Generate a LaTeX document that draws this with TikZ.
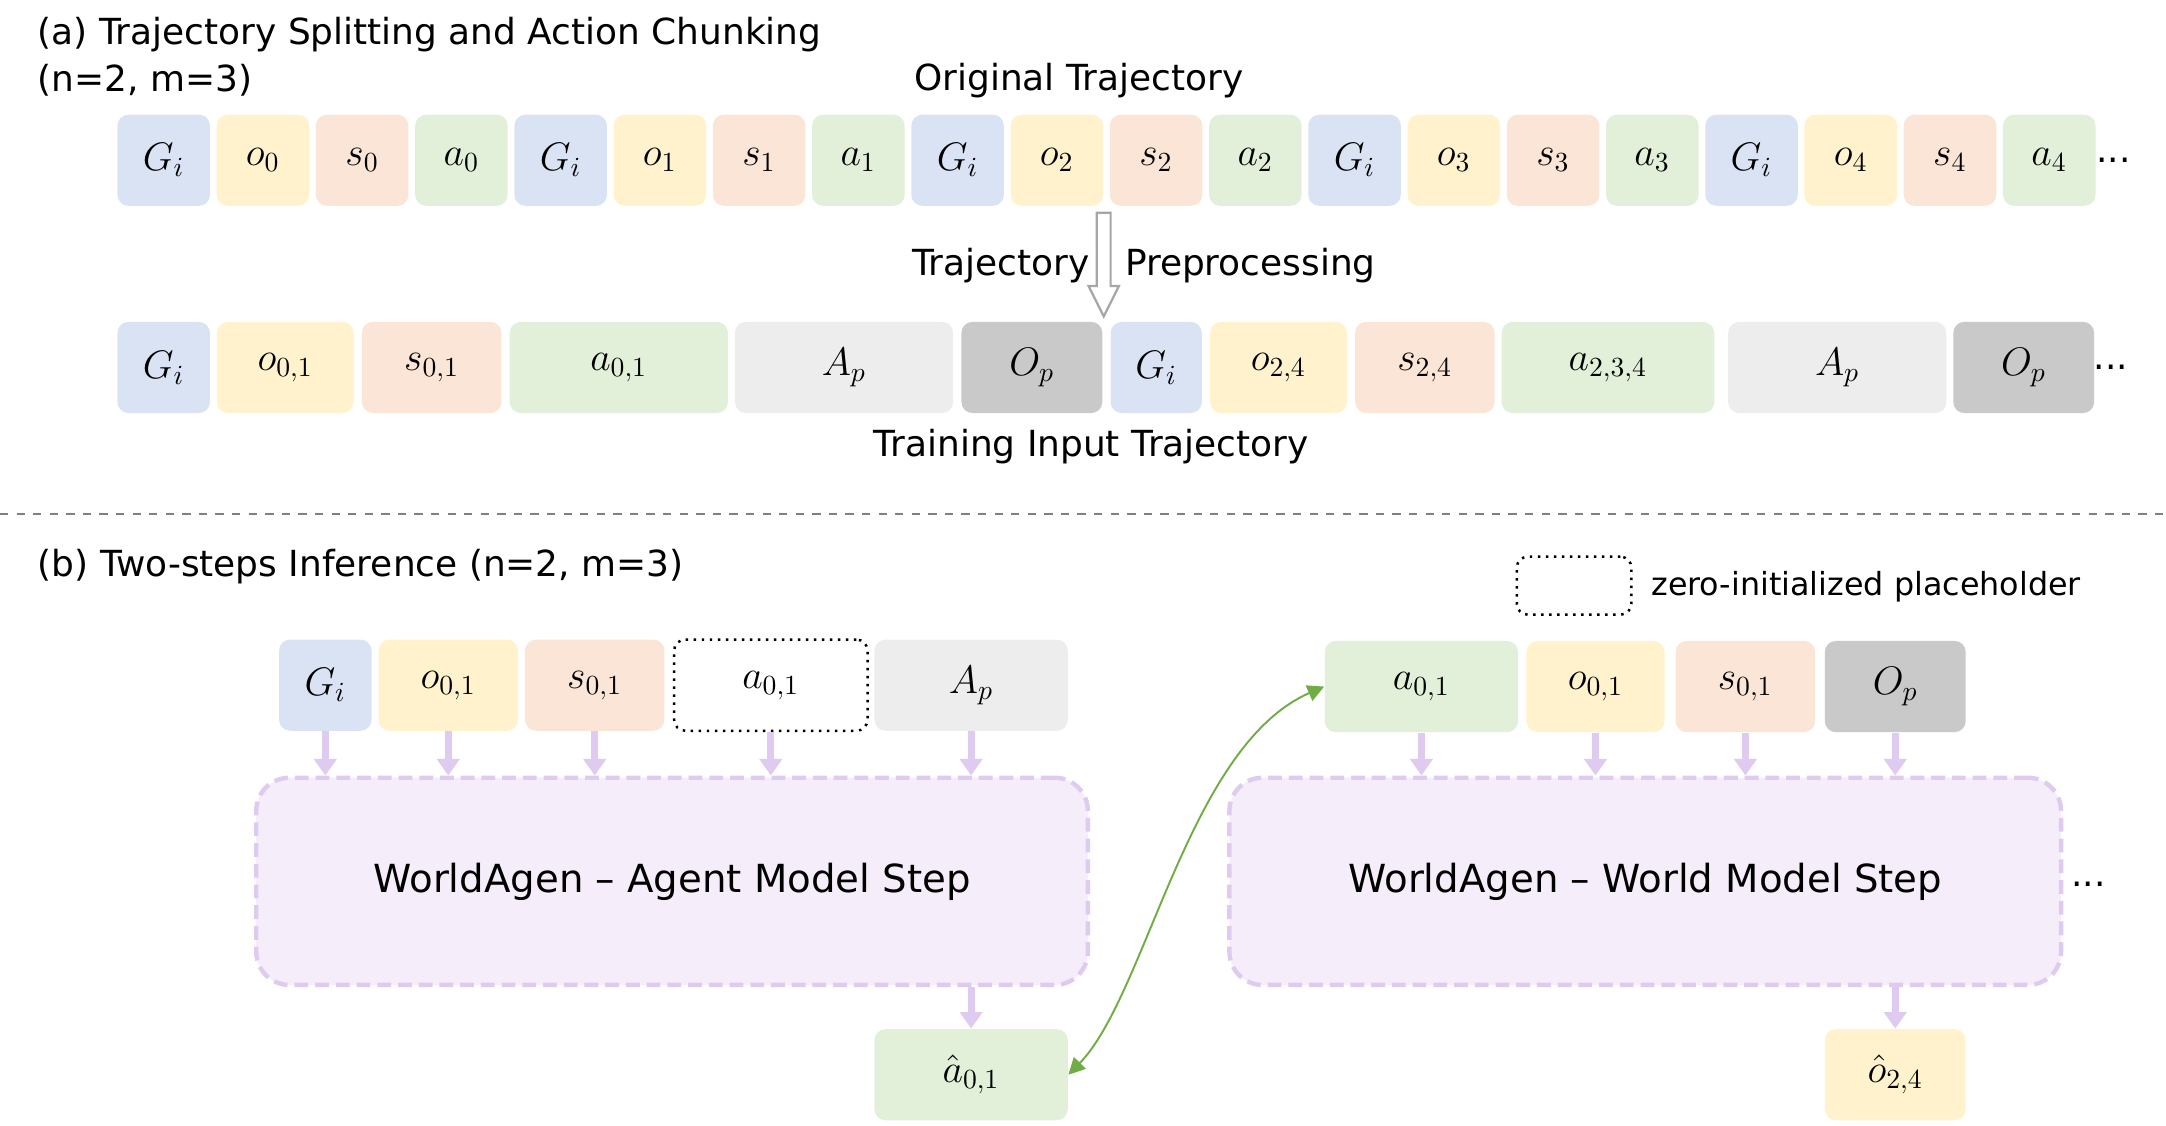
\documentclass[tikz,border=0pt]{standalone}
\usepackage[no-math]{fontspec}
\setmainfont{DejaVu Sans}
\usepackage{amsmath}
\usepackage{tikz}
\usetikzlibrary{arrows.meta,calc}
\definecolor{gblue}{HTML}{DAE3F3}
\definecolor{oyellow}{HTML}{FFF2CC}
\definecolor{ssalmon}{HTML}{FBE5D6}
\definecolor{agreen}{HTML}{E2F0D9}
\definecolor{plight}{HTML}{EDEDED}
\definecolor{pdark}{HTML}{C9C9C9}
\definecolor{lilac}{HTML}{DFCBEF}
\definecolor{lilacbg}{HTML}{F5EEFA}
\definecolor{linkgreen}{HTML}{70AD47}

\begin{document}
\begin{tikzpicture}[x=0.5pt,y=-0.5pt,
      tok/.style={rounded corners=4pt,minimum height=33pt,inner sep=0pt,font=\fontsize{14}{16}\selectfont},
      w/.style={minimum width=#1*0.5pt},
      hole/.style={tok,draw=black,dotted,line width=0.9pt,fill=white},
      hd/.style={font=\fontsize{13}{15}\selectfont,inner sep=0pt},
      model/.style={draw=lilac,dashed,dash pattern=on 5pt off 2.5pt,line width=1.6pt,fill=lilacbg,
        rounded corners=12pt,minimum width=301pt,minimum height=75pt,font=\fontsize{14}{16}\selectfont},
      feed/.style={draw=lilac,line width=2.5pt,-{Triangle[length=6pt,width=8pt]}},
      link/.style={draw=linkgreen,line width=0.7pt,{Triangle[length=6pt,width=6pt]}-{Triangle[length=6pt,width=6pt]}}]
    \useasboundingbox (0,0) rectangle (1568,815);

    % (a) splitting and chunking
    \node[hd,anchor=west] (ta) at (27,25) {(a) Trajectory Splitting and Action Chunking};
    \node[hd,anchor=west] (tanm) at (27,58) {(n=2, m=3)};
    \node[hd] (orig) at (781,58) {Original Trajectory};
    \foreach \k in {0,...,4}{
      \pgfmathsetmacro{\xx}{118.5+287.36*\k}
      \node[tok,w=67,fill=gblue]   (g\k) at (\xx,116)          {$G_i$};
      \node[tok,w=67,fill=oyellow] (o\k) at (\xx+71.84,116)    {$o_{\k}$};
      \node[tok,w=67,fill=ssalmon] (s\k) at (\xx+143.68,116)   {$s_{\k}$};
      \node[tok,w=67,fill=agreen]  (a\k) at (\xx+215.52,116)   {$a_{\k}$};
    }
    \node[hd] (dots1) at (1530,116) {...};

    \draw[draw=black!35,fill=white,line width=0.8pt]
      (794,154) -- (804,154) -- (804,207) -- (810,207) -- (799,229) -- (788,207) -- (794,207) -- cycle;
    \node[hd,anchor=east] (pre1) at (789,192) {Trajectory};
    \node[hd,anchor=west] (pre2) at (814,192) {Preprocessing};

    \node[tok,w=67,fill=gblue]    (tg1)  at (118.5,266)  {$G_i$};
    \node[tok,w=99,fill=oyellow]  (to1)  at (206.5,266)  {$o_{0,1}$};
    \node[tok,w=101,fill=ssalmon] (ts1)  at (312.5,266)  {$s_{0,1}$};
    \node[tok,w=158,fill=agreen]  (ta1)  at (448,266)    {$a_{0,1}$};
    \node[tok,w=158,fill=plight]  (tap1) at (611,266)    {$A_p$};
    \node[tok,w=102,fill=pdark]   (top1) at (747,266)    {$O_p$};
    \node[tok,w=66,fill=gblue]    (tg2)  at (837,266)    {$G_i$};
    \node[tok,w=99,fill=oyellow]  (to2)  at (925.5,266)  {$o_{2,4}$};
    \node[tok,w=101,fill=ssalmon] (ts2)  at (1031.5,266) {$s_{2,4}$};
    \node[tok,w=154,fill=agreen]  (ta2)  at (1164,266)   {$a_{2,3,4}$};
    \node[tok,w=158,fill=plight]  (tap2) at (1330,266)   {$A_p$};
    \node[tok,w=102,fill=pdark]   (top2) at (1465,266)   {$O_p$};
    \node[hd] (dots2) at (1528,266) {...};
    \node[hd] (train) at (790,323) {Training Input Trajectory};

    \draw[draw=black!50,dashed,line width=0.7pt] (0,372) -- (1568,372);

    % (b) two-step inference
    \node[hd,anchor=west] (tb) at (27,410) {(b) Two-steps Inference (n=2, m=3)};
    \node[hole,w=83,minimum height=21pt] (key) at (1139.5,424) {};
    \node[hd,anchor=west,font=\fontsize{11.5}{14}\selectfont] (keytxt) at (1195,425) {zero-initialized placeholder};

    \node[tok,w=67,fill=gblue]    (ig)  at (235.5,496) {$G_i$};
    \node[tok,w=101,fill=oyellow] (io)  at (324.5,496) {$o_{0,1}$};
    \node[tok,w=101,fill=ssalmon] (is)  at (430.5,496) {$s_{0,1}$};
    \node[hole,w=140]             (ia)  at (558,496)   {$a_{0,1}$};
    \node[tok,w=140,fill=plight]  (iap) at (703,496)   {$A_p$};
    \node[model] (agent) at (486.5,638) {WorldAgen -- Agent Model Step};
    \foreach \n in {ig,io,is,ia,iap}
      \draw[feed] (\n.south) -- (\n.south |- agent.north);
    \node[tok,w=140,fill=agreen] (ahat) at (703,778) {$\hat{a}_{0,1}$};
    \draw[feed] (agent.south -| ahat.north) -- (ahat.north);

    \node[tok,w=140,fill=agreen]  (wa)  at (1029,497)   {$a_{0,1}$};
    \node[tok,w=100,fill=oyellow] (wo)  at (1155,497)   {$o_{0,1}$};
    \node[tok,w=101,fill=ssalmon] (ws)  at (1263.5,497) {$s_{0,1}$};
    \node[tok,w=102,fill=pdark]   (wop) at (1372,497)   {$O_p$};
    \node[model] (world) at (1191,638) {WorldAgen -- World Model Step};
    \foreach \n in {wa,wo,ws,wop}
      \draw[feed] (\n.south) -- (\n.south |- world.north);
    \node[tok,w=102,fill=oyellow] (ohat) at (1372,778) {$\hat{o}_{2,4}$};
    \draw[feed] (world.south -| ohat.north) -- (ohat.north);
    \node[hd] (dots3) at (1512,640) {...};

    \draw[link] (ahat.east) .. controls (830,720) and (860,540) .. (wa.west);
  \end{tikzpicture}
\end{document}
